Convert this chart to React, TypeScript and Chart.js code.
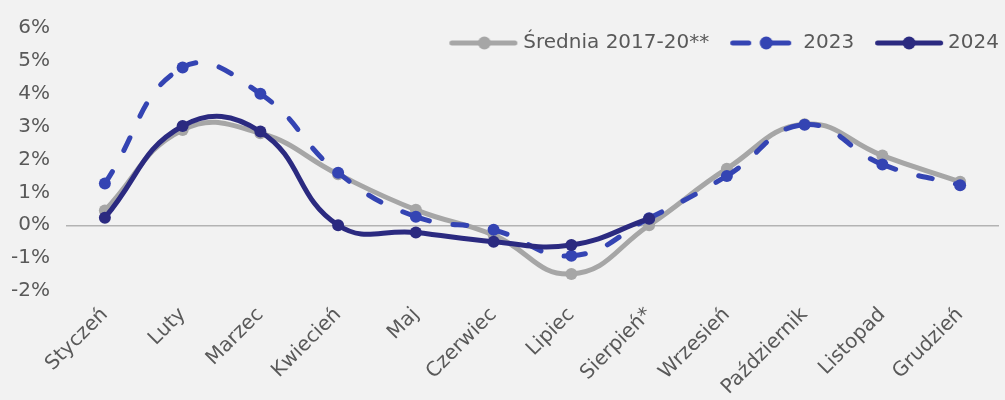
import React, { useEffect, useRef } from 'react';
import { Chart, registerables } from 'chart.js';

Chart.register(...registerables);

const months = ['Styczeń', 'Luty', 'Marzec', 'Kwiecień', 'Maj', 'Czerwiec', 'Lipiec', 'Sierpień*', 'Wrzesień', 'Październik', 'Listopad', 'Grudzień'];
const avg2017_20 = [0.45, 2.9, 2.8, 1.55, 0.47, -0.3, -1.48, 0.0, 1.72, 3.07, 2.12, 1.32];
const y2023 = [1.27, 4.8, 4.0, 1.6, 0.26, -0.14, -0.93, 0.21, 1.5, 3.06, 1.85, 1.22];
const y2024 = [0.23, 3.02, 2.85, 0.0, -0.22, -0.5, -0.6, 0.2, null, null, null, null];
const seriesNames = ['Średnia 2017-20**', '2023', '2024'];
const yMin = -2;
const yMax = 6;

const GRAY = '#a6a6a6';
const BLUE = '#3444b3';
const NAVY = '#2b2a80';
const TEXT = '#595959';
const FONT = "'DejaVu Sans', sans-serif";

// icon drawn centred on the legend box centre; segments given relative to centre
function makeIcon(color: string, segs: number[][], dot: number): HTMLCanvasElement {
  const half = 36;
  const c = document.createElement('canvas');
  c.width = half * 2;
  c.height = 16;
  const ctx = c.getContext('2d')!;
  ctx.strokeStyle = color;
  ctx.fillStyle = color;
  ctx.lineWidth = 5;
  ctx.lineCap = 'round';
  const mid = 8;
  ctx.beginPath();
  segs.forEach(([a, b]) => {
    ctx.moveTo(half + a + 2.5, mid);
    ctx.lineTo(half + b - 2.5, mid);
  });
  ctx.stroke();
  ctx.beginPath();
  ctx.arc(half + dot, mid, 6.5, 0, Math.PI * 2);
  ctx.fill();
  return c;
}

export default function App() {
  const ref = useRef<HTMLCanvasElement | null>(null);

  useEffect(() => {
    if (!ref.current) return;
    const icons = [
      makeIcon(GRAY, [[-35, 33]], 0),
      makeIcon(BLUE, [[-34, -13], [2, 27]], 2),
      makeIcon(NAVY, [[-34, 34]], 0),
    ];
    const legendShift = {
      id: 'legendShift',
      afterLayout(chart: any) {
        const lg = chart.legend;
        if (!lg) return;
        lg.left += 26;
        lg.right += 26;
        lg.top = 7;
        lg.bottom = 80;
      },
    };
    const chart = new Chart(ref.current, {
      type: 'line',
      data: {
        labels: months,
        datasets: [
          {
            label: seriesNames[0],
            data: avg2017_20,
            borderColor: GRAY,
            backgroundColor: GRAY,
            borderWidth: 5,
            pointRadius: 6,
            pointBackgroundColor: GRAY,
            pointBorderWidth: 0,
            tension: 0.45,
            order: 3,
          },
          {
            label: seriesNames[1],
            data: y2023,
            borderColor: BLUE,
            backgroundColor: BLUE,
            borderWidth: 5,
            borderDash: [14, 24],
            borderCapStyle: 'round',
            pointRadius: 6,
            pointBackgroundColor: BLUE,
            pointBorderWidth: 0,
            tension: 0.45,
            order: 2,
            segment: {
              borderDashOffset: (ctx: any) => (ctx.p0DataIndex % 2 ? 0 : 0.0001),
            },
          },
          {
            label: seriesNames[2],
            data: y2024,
            borderColor: NAVY,
            backgroundColor: NAVY,
            borderWidth: 5,
            pointRadius: 6,
            pointBackgroundColor: NAVY,
            pointBorderWidth: 0,
            tension: 0.45,
            order: 1,
          },
        ],
      },
      plugins: [legendShift],
      options: {
        animation: false,
        responsive: true,
        maintainAspectRatio: false,
        layout: { padding: { top: 22, right: 6, left: 0, bottom: 0 } },
        plugins: {
          tooltip: { enabled: false },
          legend: {
            position: 'top',
            align: 'end',
            maxHeight: 1,
            labels: {
              usePointStyle: true,
              pointStyleWidth: 58,
              color: TEXT,
              font: { family: FONT, size: 20 },
              padding: 26,
              generateLabels: (ch: any) =>
                ch.data.datasets.map((ds: any, i: number) => ({
                  text: ds.label,
                  fillStyle: ds.borderColor,
                  strokeStyle: ds.borderColor,
                  fontColor: TEXT,
                  pointStyle: icons[i],
                  datasetIndex: i,
                  hidden: false,
                  lineWidth: 0,
                })),
            },
          },
        },
        scales: {
          x: {
            offset: true,
            grid: { display: false },
            border: { display: false },
            ticks: {
              color: TEXT,
              font: { family: FONT, size: 20 },
              minRotation: 45,
              maxRotation: 45,
              autoSkip: false,
              padding: 4,
            },
            afterFit: (s: any) => {
              s.height = 109;
            },
          },
          y: {
            min: yMin,
            max: yMax,
            border: { display: false },
            grid: {
              drawTicks: false,
              color: (c: any) => (c.tick && c.tick.value === 0 ? '#b3b3b3' : 'rgba(0,0,0,0)'),
              lineWidth: 1.5,
            },
            ticks: {
              stepSize: 1,
              color: TEXT,
              font: { family: FONT, size: 20 },
              padding: 16,
              callback: (v: any) => `${v}%`,
            },
            afterFit: (s: any) => {
              s.width = 66;
            },
          },
        },
      },
    });
    return () => chart.destroy();
  }, []);

  return (
    <div style={{ position: 'fixed', left: 0, top: 0, width: 1005, height: 400, background: '#f2f2f2' }}>
      <canvas ref={ref} />
    </div>
  );
}
